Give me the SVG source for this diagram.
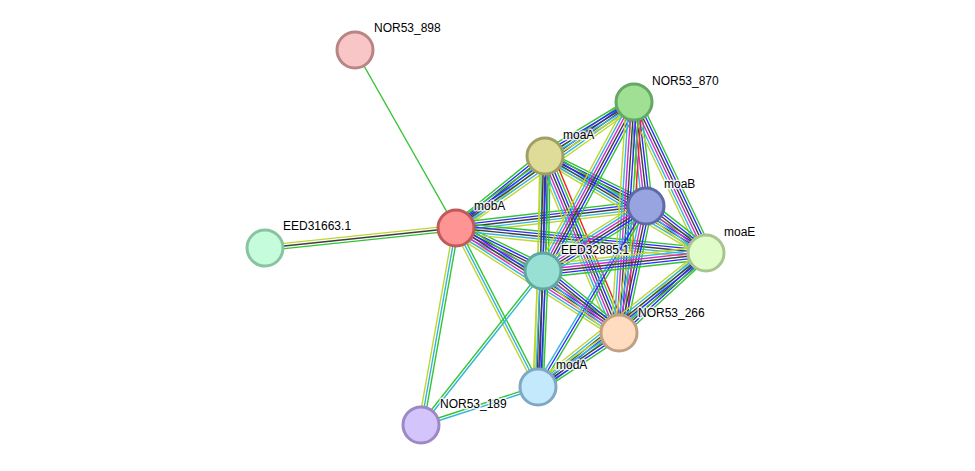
<svg xmlns="http://www.w3.org/2000/svg" width="975" height="471" viewBox="0 0 975 471">
<style>
.edges use{fill:none;stroke-width:1.4}
.cg{stroke:#33c433}.cr{stroke:#f02020}.cb{stroke:#2a2aff}.ck{stroke:#3f3f3f}.cm{stroke:#d42ad4}.cc{stroke:#33b5dd}.cy{stroke:#bfd630}
.o-3{transform:translate(calc(var(--sx)*-3.9),calc(var(--sy)*-3.9))}
.o-25{transform:translate(calc(var(--sx)*-3.25),calc(var(--sy)*-3.25))}
.o-2{transform:translate(calc(var(--sx)*-2.6),calc(var(--sy)*-2.6))}
.o-15{transform:translate(calc(var(--sx)*-1.95),calc(var(--sy)*-1.95))}
.o-1{transform:translate(calc(var(--sx)*-1.3),calc(var(--sy)*-1.3))}
.o-05{transform:translate(calc(var(--sx)*-0.65),calc(var(--sy)*-0.65))}
.o05{transform:translate(calc(var(--sx)*0.65),calc(var(--sy)*0.65))}
.o1{transform:translate(calc(var(--sx)*1.3),calc(var(--sy)*1.3))}
.o15{transform:translate(calc(var(--sx)*1.95),calc(var(--sy)*1.95))}
.o2{transform:translate(calc(var(--sx)*2.6),calc(var(--sy)*2.6))}
.o25{transform:translate(calc(var(--sx)*3.25),calc(var(--sy)*3.25))}
.o3{transform:translate(calc(var(--sx)*3.9),calc(var(--sy)*3.9))}
.node circle{stroke-width:3}
.node text{font-family:"Liberation Sans",Arial,sans-serif;font-size:12px;fill:#000;stroke:#fff;stroke-width:3px;stroke-opacity:0.8;paint-order:stroke;stroke-linejoin:round}
</style>
<defs>
<line id="e1" x1="456" y1="228" x2="355" y2="50"/>
<line id="e2" x1="456" y1="228" x2="265" y2="248"/>
<line id="e3" x1="456" y1="228" x2="421" y2="425"/>
<line id="e4" x1="456" y1="228" x2="538" y2="387"/>
<line id="e5" x1="456" y1="228" x2="543" y2="271"/>
<line id="e6" x1="456" y1="228" x2="545" y2="156"/>
<line id="e7" x1="456" y1="228" x2="634" y2="102"/>
<line id="e8" x1="456" y1="228" x2="646" y2="206"/>
<line id="e9" x1="456" y1="228" x2="706" y2="253"/>
<line id="e10" x1="456" y1="228" x2="619" y2="333"/>
<line id="e11" x1="545" y1="156" x2="634" y2="102"/>
<line id="e12" x1="545" y1="156" x2="646" y2="206"/>
<line id="e13" x1="545" y1="156" x2="706" y2="253"/>
<line id="e14" x1="545" y1="156" x2="543" y2="271"/>
<line id="e15" x1="545" y1="156" x2="619" y2="333"/>
<line id="e16" x1="545" y1="156" x2="538" y2="387"/>
<line id="e17" x1="634" y1="102" x2="646" y2="206"/>
<line id="e18" x1="634" y1="102" x2="706" y2="253"/>
<line id="e19" x1="634" y1="102" x2="543" y2="271"/>
<line id="e20" x1="634" y1="102" x2="619" y2="333"/>
<line id="e21" x1="646" y1="206" x2="706" y2="253"/>
<line id="e22" x1="646" y1="206" x2="543" y2="271"/>
<line id="e23" x1="646" y1="206" x2="619" y2="333"/>
<line id="e24" x1="646" y1="206" x2="538" y2="387"/>
<line id="e25" x1="706" y1="253" x2="543" y2="271"/>
<line id="e26" x1="706" y1="253" x2="619" y2="333"/>
<line id="e27" x1="706" y1="253" x2="538" y2="387"/>
<line id="e28" x1="543" y1="271" x2="619" y2="333"/>
<line id="e29" x1="543" y1="271" x2="538" y2="387"/>
<line id="e30" x1="619" y1="333" x2="538" y2="387"/>
<line id="e31" x1="421" y1="425" x2="538" y2="387"/>
<line id="e32" x1="421" y1="425" x2="543" y2="271"/>
</defs>
<g id="connectors" class="edges">
<g style="--sx:0px;--sy:0px"><use href="#e1" class="cg"/></g>
<g style="--sx:-0.21px;--sy:-1.99px"><use href="#e2" class="cg o-1"/><use href="#e2" class="ck"/><use href="#e2" class="cy o1"/></g>
<g style="--sx:-1.97px;--sy:-0.35px"><use href="#e3" class="cg o-1"/><use href="#e3" class="cc"/><use href="#e3" class="cy o1"/></g>
<g style="--sx:-1.78px;--sy:0.92px"><use href="#e4" class="cg o-1"/><use href="#e4" class="cc"/><use href="#e4" class="cy o1"/></g>
<g style="--sx:-0.89px;--sy:1.79px"><use href="#e5" class="cg o-25"/><use href="#e5" class="cb o-15"/><use href="#e5" class="ck o-05"/><use href="#e5" class="cm o05"/><use href="#e5" class="cc o15"/><use href="#e5" class="cy o25"/></g>
<g style="--sx:1.26px;--sy:1.55px"><use href="#e6" class="cg o-2"/><use href="#e6" class="cb o-1"/><use href="#e6" class="ck"/><use href="#e6" class="cc o1"/><use href="#e6" class="cy o2"/></g>
<g style="--sx:1.16px;--sy:1.63px"><use href="#e7" class="cg o-2"/><use href="#e7" class="cb o-1"/><use href="#e7" class="ck"/><use href="#e7" class="cc o1"/><use href="#e7" class="cy o2"/></g>
<g style="--sx:0.23px;--sy:1.99px"><use href="#e8" class="cg o-2"/><use href="#e8" class="cb o-1"/><use href="#e8" class="ck"/><use href="#e8" class="cc o1"/><use href="#e8" class="cy o2"/></g>
<g style="--sx:-0.2px;--sy:1.99px"><use href="#e9" class="cg o-2"/><use href="#e9" class="cb o-1"/><use href="#e9" class="ck"/><use href="#e9" class="cc o1"/><use href="#e9" class="cy o2"/></g>
<g style="--sx:-1.08px;--sy:1.68px"><use href="#e10" class="cg o-25"/><use href="#e10" class="cb o-15"/><use href="#e10" class="ck o-05"/><use href="#e10" class="cm o05"/><use href="#e10" class="cc o15"/><use href="#e10" class="cy o25"/></g>
<g style="--sx:1.04px;--sy:1.71px"><use href="#e11" class="cg o-2"/><use href="#e11" class="cb o-1"/><use href="#e11" class="ck"/><use href="#e11" class="cc o1"/><use href="#e11" class="cy o2"/></g>
<g style="--sx:-0.89px;--sy:1.79px"><use href="#e12" class="cg o-2"/><use href="#e12" class="cb o-1"/><use href="#e12" class="ck"/><use href="#e12" class="cc o1"/><use href="#e12" class="cy o2"/></g>
<g style="--sx:-1.03px;--sy:1.71px"><use href="#e13" class="cg o-2"/><use href="#e13" class="cb o-1"/><use href="#e13" class="ck"/><use href="#e13" class="cc o1"/><use href="#e13" class="cy o2"/></g>
<g style="--sx:-2px;--sy:-0.03px"><use href="#e14" class="cg o-2"/><use href="#e14" class="cb o-1"/><use href="#e14" class="ck"/><use href="#e14" class="cc o1"/><use href="#e14" class="cy o2"/></g>
<g style="--sx:-1.85px;--sy:0.77px"><use href="#e15" class="cr o-3"/><use href="#e15" class="cg o-2"/><use href="#e15" class="cb o-1"/><use href="#e15" class="ck"/><use href="#e15" class="cm o1"/><use href="#e15" class="cc o2"/><use href="#e15" class="cy o3"/></g>
<g style="--sx:-2px;--sy:-0.06px"><use href="#e16" class="cg o-15"/><use href="#e16" class="cb o-05"/><use href="#e16" class="ck o05"/><use href="#e16" class="cy o15"/></g>
<g style="--sx:-1.99px;--sy:0.23px"><use href="#e17" class="cg o-25"/><use href="#e17" class="cb o-15"/><use href="#e17" class="ck o-05"/><use href="#e17" class="cm o05"/><use href="#e17" class="cc o15"/><use href="#e17" class="cy o25"/></g>
<g style="--sx:-1.81px;--sy:0.86px"><use href="#e18" class="cg o-25"/><use href="#e18" class="cb o-15"/><use href="#e18" class="ck o-05"/><use href="#e18" class="cm o05"/><use href="#e18" class="cc o15"/><use href="#e18" class="cy o25"/></g>
<g style="--sx:-1.76px;--sy:-0.95px"><use href="#e19" class="cg o-25"/><use href="#e19" class="cb o-15"/><use href="#e19" class="ck o-05"/><use href="#e19" class="cm o05"/><use href="#e19" class="cc o15"/><use href="#e19" class="cy o25"/></g>
<g style="--sx:-2px;--sy:-0.13px"><use href="#e20" class="cr o-3"/><use href="#e20" class="cg o-2"/><use href="#e20" class="cb o-1"/><use href="#e20" class="ck"/><use href="#e20" class="cm o1"/><use href="#e20" class="cc o2"/><use href="#e20" class="cy o3"/></g>
<g style="--sx:-1.23px;--sy:1.57px"><use href="#e21" class="cg o-25"/><use href="#e21" class="cb o-15"/><use href="#e21" class="ck o-05"/><use href="#e21" class="cm o05"/><use href="#e21" class="cc o15"/><use href="#e21" class="cy o25"/></g>
<g style="--sx:-1.07px;--sy:-1.69px"><use href="#e22" class="cg o-25"/><use href="#e22" class="cb o-15"/><use href="#e22" class="ck o-05"/><use href="#e22" class="cm o05"/><use href="#e22" class="cc o15"/><use href="#e22" class="cy o25"/></g>
<g style="--sx:-1.96px;--sy:-0.42px"><use href="#e23" class="cg o-25"/><use href="#e23" class="cb o-15"/><use href="#e23" class="ck o-05"/><use href="#e23" class="cm o05"/><use href="#e23" class="cc o15"/><use href="#e23" class="cy o25"/></g>
<g style="--sx:-1.72px;--sy:-1.02px"><use href="#e24" class="cg o-1"/><use href="#e24" class="cb"/><use href="#e24" class="cc o1"/></g>
<g style="--sx:-0.22px;--sy:-1.99px"><use href="#e25" class="cg o-25"/><use href="#e25" class="cb o-15"/><use href="#e25" class="ck o-05"/><use href="#e25" class="cm o05"/><use href="#e25" class="cc o15"/><use href="#e25" class="cy o25"/></g>
<g style="--sx:-1.35px;--sy:-1.47px"><use href="#e26" class="cg o-2"/><use href="#e26" class="cb o-1"/><use href="#e26" class="ck"/><use href="#e26" class="cc o1"/><use href="#e26" class="cy o2"/></g>
<g style="--sx:-1.25px;--sy:-1.56px"><use href="#e27" class="cg o-2"/><use href="#e27" class="cb o-1"/><use href="#e27" class="ck"/><use href="#e27" class="cc o1"/><use href="#e27" class="cy o2"/></g>
<g style="--sx:-1.26px;--sy:1.55px"><use href="#e28" class="cg o-25"/><use href="#e28" class="cb o-15"/><use href="#e28" class="ck o-05"/><use href="#e28" class="cm o05"/><use href="#e28" class="cc o15"/><use href="#e28" class="cy o25"/></g>
<g style="--sx:-2px;--sy:-0.09px"><use href="#e29" class="cg o-2"/><use href="#e29" class="cb o-1"/><use href="#e29" class="ck"/><use href="#e29" class="cc o1"/><use href="#e29" class="cy o2"/></g>
<g style="--sx:-1.11px;--sy:-1.66px"><use href="#e30" class="cg o-2"/><use href="#e30" class="cb o-1"/><use href="#e30" class="ck"/><use href="#e30" class="cc o1"/><use href="#e30" class="cy o2"/></g>
<g style="--sx:0.62px;--sy:1.9px"><use href="#e31" class="cg o-05"/><use href="#e31" class="cc o05"/></g>
<g style="--sx:1.57px;--sy:1.24px"><use href="#e32" class="cg o-05"/><use href="#e32" class="cc o05"/></g>
</g>
<g id="node-NOR53_898" class="node"><circle cx="355" cy="50" r="18" fill="#f8c6c6" stroke="#b88585"/><text x="374" y="32">NOR53_898</text></g>
<g id="node-EED31663.1" class="node"><circle cx="265" cy="248" r="18" fill="#c4fcdc" stroke="#88c4a0"/><text x="283" y="230">EED31663.1</text></g>
<g id="node-NOR53_870" class="node"><circle cx="634" cy="102" r="18" fill="#a0e094" stroke="#64a864"/><text x="652" y="85">NOR53_870</text></g>
<g id="node-moaA" class="node"><circle cx="545" cy="156" r="18" fill="#dedc98" stroke="#a0a064"/><text x="563" y="139">moaA</text></g>
<g id="node-moaB" class="node"><circle cx="646" cy="206" r="18" fill="#98a4e0" stroke="#5c6aa8"/><text x="664" y="188">moaB</text></g>
<g id="node-mobA" class="node"><circle cx="456" cy="228" r="18" fill="#ff9494" stroke="#c05a5a"/><text x="474" y="210">mobA</text></g>
<g id="node-moaE" class="node"><circle cx="706" cy="253" r="18" fill="#e0fcc8" stroke="#a8c490"/><text x="724" y="236">moaE</text></g>
<g id="node-EED32885.1" class="node"><circle cx="543" cy="271" r="18" fill="#98e0d4" stroke="#60a8a0"/><text x="561" y="254">EED32885.1</text></g>
<g id="node-NOR53_266" class="node"><circle cx="619" cy="333" r="18" fill="#ffdcc0" stroke="#c0a080"/><text x="638" y="317">NOR53_266</text></g>
<g id="node-modA" class="node"><circle cx="538" cy="387" r="18" fill="#c4e8fc" stroke="#80a8c4"/><text x="556" y="369">modA</text></g>
<g id="node-NOR53_189" class="node"><circle cx="421" cy="425" r="18" fill="#d4c4fc" stroke="#9c88c4"/><text x="440" y="408">NOR53_189</text></g>
</svg>
